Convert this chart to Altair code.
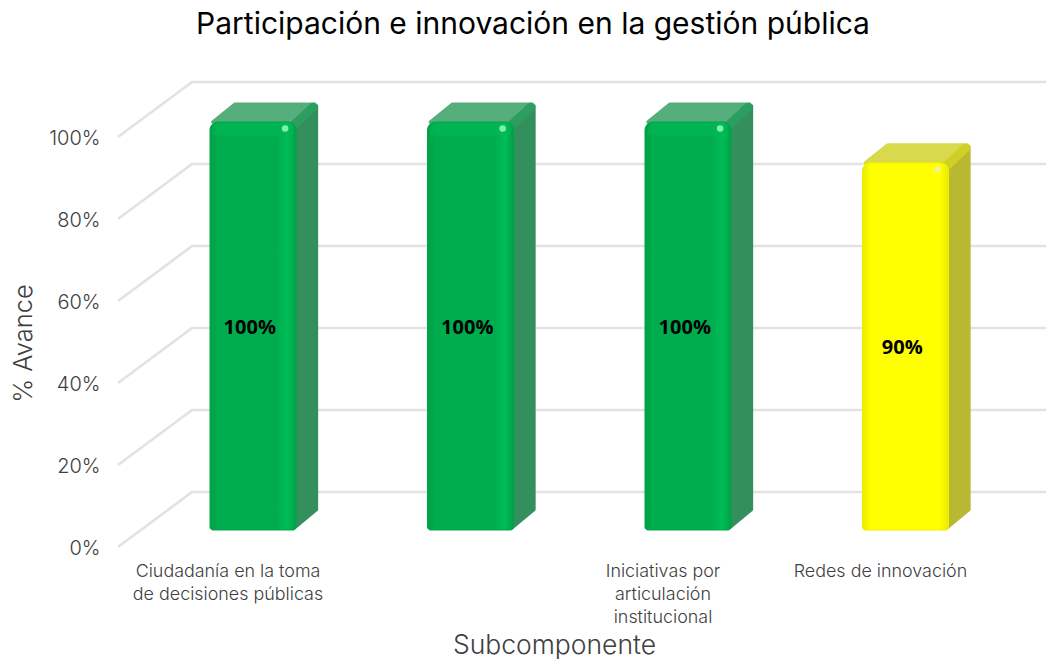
import altair as alt
import pandas as pd

categories = ["Ciudadanía en la toma de decisiones públicas", "Cat2", "Iniciativas por articulación institucional", "Redes de innovación"]
label_lines = ["Ciudadanía en la toma\nde decisiones públicas", "", "Iniciativas por\narticulación\ninstitucional", "Redes de innovación"]
values = [100, 100, 100, 90]
status = ["verde", "verde", "verde", "amarillo"]
levels = [0, 20, 40, 60, 80, 100]

W, H = 1038, 651
XD = [-245 / 217.5, (W - 245) / 217.5]
YD = [(539 - H) / 4.1, 539 / 4.1]
HALF, DU, DV, BASE, K = 0.1977, 0.101, 5.0, 4.15, 0.995
X1, X2 = -0.6207, -0.2805
BACK = 13.4

grid = []
for lv in levels:
    grid += [dict(level=lv, u=X1, v=lv, o=0), dict(level=lv, u=X2, v=lv + BACK, o=1), dict(level=lv, u=XD[1], v=lv + BACK, o=2)]
grid = pd.DataFrame(grid)

front, side, top, bevel, labels, spot, band = [], [], [], [], [], [], []
for i, (c, val, st, lab) in enumerate(zip(categories, values, status, label_lines)):
    t = BASE + val * K
    front.append(dict(c=c, st=st, x=i - HALF, x2=i + HALF, y=BASE, y2=t, val=val / 100, mid=(BASE + t) / 2, u=i - 0.015))
    side += [dict(c=c, st=st, x=i + HALF - 0.006, y=BASE + 0.5, y2=t - 1),
             dict(c=c, st=st, x=i + HALF + DU - 0.006, y=BASE + DV, y2=t + DV - 1)]
    top += [dict(c=c, st=st, y=t, x=i - HALF + 0.015, x2=i + HALF - 0.015),
            dict(c=c, st=st, y=t + DV - 0.7, x=i - HALF + DU + 0.015, x2=i + HALF + DU - 0.015)]
    bevel += [dict(c=c, st=st, x=i + HALF - 0.01, y=t - 0.8, o=0),
              dict(c=c, st=st, x=i + HALF + DU - 0.022, y=t + DV - 1.4, o=1)]
    labels.append(dict(c=c, text=lab, u=i - 0.115, v=-4))
    spot.append(dict(c=c, st=st, x=i + HALF - 0.05, y=t - 1.6))
    band.append(dict(c=c, st=st, x=i - HALF + 0.012, x2=i + HALF - 0.012, y=t - 3.2, y2=t - 0.2))
front, side, top, bevel, labels, spot, band = map(pd.DataFrame, (front, side, top, bevel, labels, spot, band))

xs = alt.Scale(domain=XD, range=[0, W], nice=False, zero=False)
ys = alt.Scale(domain=YD, range=[H, 0], nice=False, zero=False)
FONT = "Inter"
TXT = "#404040"

axis_x = alt.Axis(labels=False, ticks=False, domain=False, grid=False, values=[0], title="Subcomponente",
                  titleFont=FONT, titleFontWeight=300, titleFontSize=26.5, titleColor=TXT, titleX=546, titleY=-6,
                  titleAlign="center", titleBaseline="alphabetic")
axis_y = alt.Axis(values=levels, ticks=False, domain=False, grid=False, offset=-92, labelPadding=0, labelOffset=1,
                  labelExpr="datum.value + '%'", labelFont=FONT, labelFontWeight=300, labelFontSize=20, labelColor=TXT,
                  title="% Avance", titleFont=FONT, titleFontWeight=300, titleFontSize=25.5, titleColor=TXT,
                  titleX=-77, titleY=335, titleAngle=270, titleAlign="center", titleBaseline="middle")

def X(f="x"):
    return alt.X(f"{f}:Q", scale=xs, axis=axis_x)
def Y(f="y"):
    return alt.Y(f"{f}:Q", scale=ys, axis=axis_y)

DOM = ["verde", "amarillo"]
side_col = alt.Color("st:N", scale=alt.Scale(domain=DOM, range=["#338f5c", "#b8b833"]), legend=None)
top_col = alt.Color("st:N", scale=alt.Scale(domain=DOM, range=["#55ae7c", "#d9d94d"]), legend=None)
bev_col = alt.Color("st:N", scale=alt.Scale(domain=DOM, range=["#2b9e60", "#cfcf26"]), legend=None)
spot_col = alt.Color("st:N", scale=alt.Scale(domain=DOM, range=["#7ff0ae", "#f2f28c"]), legend=None)

def grad(edge, mid, light):
    return alt.Gradient(gradient="linear", x1=0, x2=1, y1=0, y2=0, stops=[
        alt.GradientStop(offset=0, color=edge), alt.GradientStop(offset=0.1, color=mid),
        alt.GradientStop(offset=0.78, color=mid), alt.GradientStop(offset=0.9, color=light),
        alt.GradientStop(offset=1, color=edge)])

RADII = dict(cornerRadiusTopLeft=8, cornerRadiusTopRight=8, cornerRadiusBottomLeft=3, cornerRadiusBottomRight=3)

grid_l = alt.Chart(grid).mark_line(color="#e2e2e2", strokeWidth=2.6).encode(
    x=X("u"), y=Y("v"), detail="level:N", order="o:Q")
side_l = alt.Chart(side).mark_area(strokeWidth=3, strokeJoin="round").encode(
    x=X(), y=Y(), y2="y2:Q", color=side_col, stroke=side_col, detail="c:N")
top_l = alt.Chart(top).mark_area(orient="horizontal", strokeWidth=4, strokeJoin="round").encode(
    y=Y(), x=X(), x2="x2:Q", color=top_col, stroke=top_col, detail="c:N")
bev_l = alt.Chart(bevel).mark_line(strokeWidth=9, strokeCap="round").encode(
    x=X(), y=Y(), color=bev_col, detail="c:N", order="o:Q")
f_g = alt.Chart(front[front.st == "verde"]).mark_bar(
    fill=grad("#00a045", "#00ad4e", "#00bd58"), stroke="#00a54a", strokeWidth=1, **RADII).encode(
    x=X(), x2="x2:Q", y=Y(), y2="y2:Q")
f_y = alt.Chart(front[front.st == "amarillo"]).mark_bar(
    fill=grad("#eaea00", "#ffff00", "#ffff00"), stroke="#eeee00", strokeWidth=1, **RADII).encode(
    x=X(), x2="x2:Q", y=Y(), y2="y2:Q")
band_l = alt.Chart(band[band.st == "verde"]).mark_bar(
    color="#00bd58", opacity=0.4, cornerRadiusTopLeft=6, cornerRadiusTopRight=6).encode(
    x=X(), x2="x2:Q", y=Y(), y2="y2:Q")
spot_l = alt.Chart(spot).mark_point(filled=True, size=42, opacity=1).encode(
    x=X(), y=Y(), color=spot_col)
val_l = alt.Chart(front).mark_text(font="Open Sans", fontWeight="bold", fontSize=20, color="#000000", baseline="middle", dy=2).encode(
    x=X("u"), y=Y("mid"), text=alt.Text("val:Q", format=".0%"))
cat_l = alt.Chart(labels).mark_text(font=FONT, fontWeight=300, fontSize=17.9, color=TXT, baseline="top", lineBreak="\n", lineHeight=23).encode(
    x=X("u"), y=Y("v"), text="text:N")

chart = alt.layer(grid_l, side_l, top_l, bev_l, f_g, f_y, band_l, spot_l, val_l, cat_l).resolve_scale(color="independent", stroke="independent").properties(
    width=W, height=H, padding=0, autosize=alt.AutoSizeParams(type="none"),
    title=alt.TitleParams("Participación e innovación en la gestión pública", font=FONT, fontWeight=400, fontSize=30,
                          color="#000000", anchor="middle", dx=6, offset=-56, baseline="alphabetic")
).configure_view(stroke=None)

chart.save("out.html", embed_options={"renderer": "svg", "actions": False})
